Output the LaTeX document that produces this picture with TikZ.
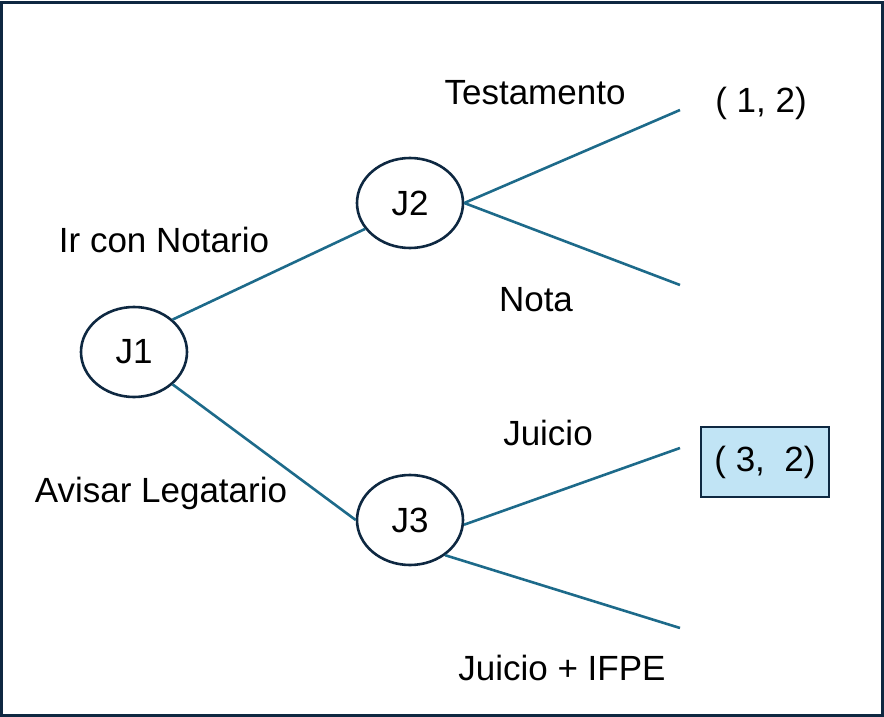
\documentclass[tikz,border=0pt]{standalone}
\usepackage{fontspec}
\setmainfont{Liberation Sans}
\usetikzlibrary{shapes.geometric}
\definecolor{navy}{HTML}{0E2841}
\definecolor{teal}{HTML}{1D6A8A}
\definecolor{boxfill}{HTML}{C1E4F5}
\begin{document}
\begin{tikzpicture}[x=1pt,y=-1pt,
  lbl/.style={font=\fontsize{35}{38}\selectfont, text=black, inner sep=0pt},
  player/.style={ellipse, draw=navy, line width=2.6pt, minimum width=106pt, minimum height=90pt, inner sep=0pt, font=\fontsize{35}{38}\selectfont},
  edge/.style={draw=teal, line width=2.6pt},
  payoff/.style={rectangle, draw=navy, fill=boxfill, line width=2.6pt, minimum width=128pt, minimum height=70pt, inner sep=0pt, font=\fontsize{35}{38}\selectfont}]
\useasboundingbox (0,0) rectangle (884,717);
\draw[navy, line width=3pt] (1.5,3) rectangle (882.5,715.5);
% nodes
\node[player] (J1) at (134,352) {J1};
\node[player] (J2) at (410,203) {J2};
\node[player] (J3) at (410,520) {J3};
\coordinate (T) at (680,110);
\coordinate (N) at (680,285);
\coordinate (Ju) at (680,448);
\coordinate (JI) at (680,628);
% edges
\draw[edge] (J1.40) -- (J2.210);
\draw[edge] (J1.-40) -- (J3.180);
\draw[edge] (J2.east) -- (T);
\draw[edge] (J2.east) -- (N);
\draw[edge] (J3.-5) -- (Ju);
\draw[edge] (J3.-45) -- (JI);
% labels
\node[lbl] (lT) at (535,93) {Testamento};
\node[lbl] (p1) at (761,103) {( 1, 2)};
\node[lbl] (lIr) at (164,240) {Ir con Notario};
\node[lbl] (lN) at (536,300) {Nota};
\node[lbl] (lJu) at (548,433) {Juicio};
\node[payoff] (p2) at (765,462) {( 3,\ \ 2)};
\node[lbl] (lAv) at (161,493) {Avisar Legatario};
\node[lbl] (lJI) at (562,668) {Juicio + IFPE};
\end{tikzpicture}
\end{document}
